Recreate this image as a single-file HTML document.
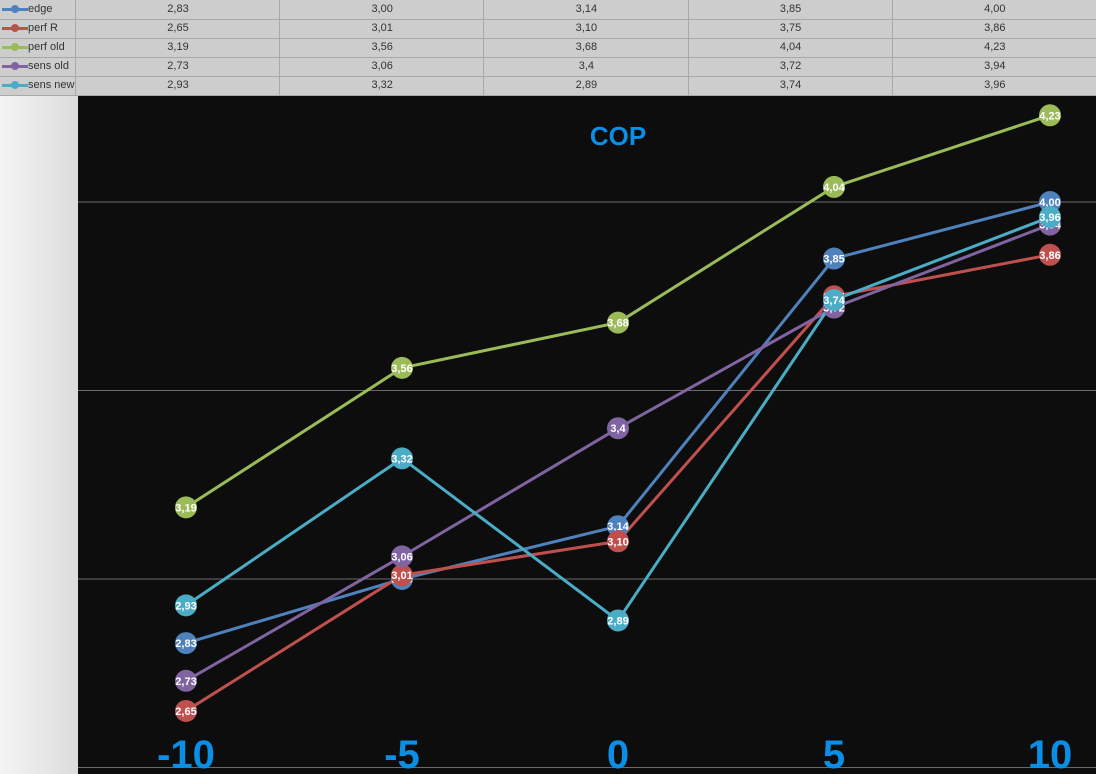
<!DOCTYPE html>
<html><head><meta charset="utf-8"><style>
body{margin:0;width:1096px;height:774px;overflow:hidden;background:#0d0d0d;font-family:"Liberation Sans",sans-serif}
#tbl{position:absolute;left:0;top:0;width:1096px;height:96px;background:#cdcdcd}
.row{position:absolute;left:0;width:1096px;height:19px;border-bottom:1px solid #a8a8a8;font-size:11px;color:#333}
.cell{position:absolute;top:0;height:19px;line-height:19px;text-align:center;border-left:1px solid #a8a8a8}
#side{position:absolute;left:0;top:96px;width:78px;height:678px;background:linear-gradient(90deg,#f4f4f4,#dcdcdc)}
</style></head><body>
<div id="tbl"></div>
<div id="side"></div>
<svg id="chart" width="1096" height="774" style="position:absolute;left:0;top:0"></svg>
<script>
const categories=["-10","-5","0","5","10"];
const seriesNames=["edge","perf R","perf old","sens old","sens new"];
const colors=["#4f81bd","#c0504d","#9bbb59","#8064a2","#4bacc6"];
const edge=[2.83,3.00,3.14,3.85,4.00];
const perfR=[2.65,3.01,3.10,3.75,3.86];
const perfOld=[3.19,3.56,3.68,4.04,4.23];
const sensOld=[2.73,3.06,3.4,3.72,3.94];
const sensNew=[2.93,3.32,2.89,3.74,3.96];
const labels=[["2,83","3,00","3,14","3,85","4,00"],["2,65","3,01","3,10","3,75","3,86"],["3,19","3,56","3,68","4,04","4,23"],["2,73","3,06","3,4","3,72","3,94"],["2,93","3,32","2,89","3,74","3,96"]];
const gridVals=[2.5,3.0,3.5,4.0];
const series=[edge,perfR,perfOld,sensOld,sensNew];
const xs=i=>186+i*216;
const ys=v=>202+(4-v)*377;
const NS="http://www.w3.org/2000/svg";
const svg=document.getElementById('chart');
function mk(t,a){const e=document.createElementNS(NS,t);for(const k in a)e.setAttribute(k,a[k]);svg.appendChild(e);return e;}
// table
const tbl=document.getElementById('tbl');
series.forEach((s,r)=>{
 const row=document.createElement('div');row.className='row';row.style.top=(r*19)+'px';
 
 
 row.innerHTML='<div class="cell" style="left:0;width:75px;border-left:none;text-align:left"><span style="display:inline-block;width:26px;height:3px;background:'+colors[r]+';vertical-align:middle;position:relative;margin-left:2px"><span style="position:absolute;left:9px;top:-2.5px;width:8px;height:8px;border-radius:50%;background:'+colors[r]+'"></span></span>'+seriesNames[r]+'</div>';
 labels[r].forEach((l,i)=>{row.innerHTML+='<div class="cell" style="left:'+(75+i*204.2)+'px;width:204px">'+l+'</div>';});
 tbl.appendChild(row);
});
const plotBg=mk('rect',{x:78,y:96,width:1018,height:678,fill:'#0d0d0d'});

gridVals.forEach(g=>{const l=mk('line',{x1:78,x2:1096,y1:ys(g),y2:ys(g),stroke:'#6a6a6a','stroke-width':1});
 });
const t=mk('text',{x:618,y:145,'text-anchor':'middle',fill:'#0a8ee6','font-size':26,'font-weight':'bold'});t.textContent='COP';

categories.forEach((c,i)=>{const e=mk('text',{x:xs(i),y:768,'text-anchor':'middle',fill:'#0a8ee6','font-size':40,'font-weight':'bold'});e.textContent=c;
 });
series.forEach((s,r)=>{
 const p=mk('polyline',{points:s.map((v,i)=>xs(i)+','+ys(v)).join(' '),fill:'none',stroke:colors[r],'stroke-width':3});
 
});
series.forEach((s,r)=>{
 s.forEach((v,i)=>{
  const c=mk('circle',{cx:xs(i),cy:ys(v),r:11,fill:colors[r]});
  
  const tx=mk('text',{x:xs(i),y:ys(v)+4,'text-anchor':'middle',fill:'#fff','font-size':11,'font-weight':'bold'});tx.textContent=labels[r][i];
  
 });
});
</script>
</body></html>
